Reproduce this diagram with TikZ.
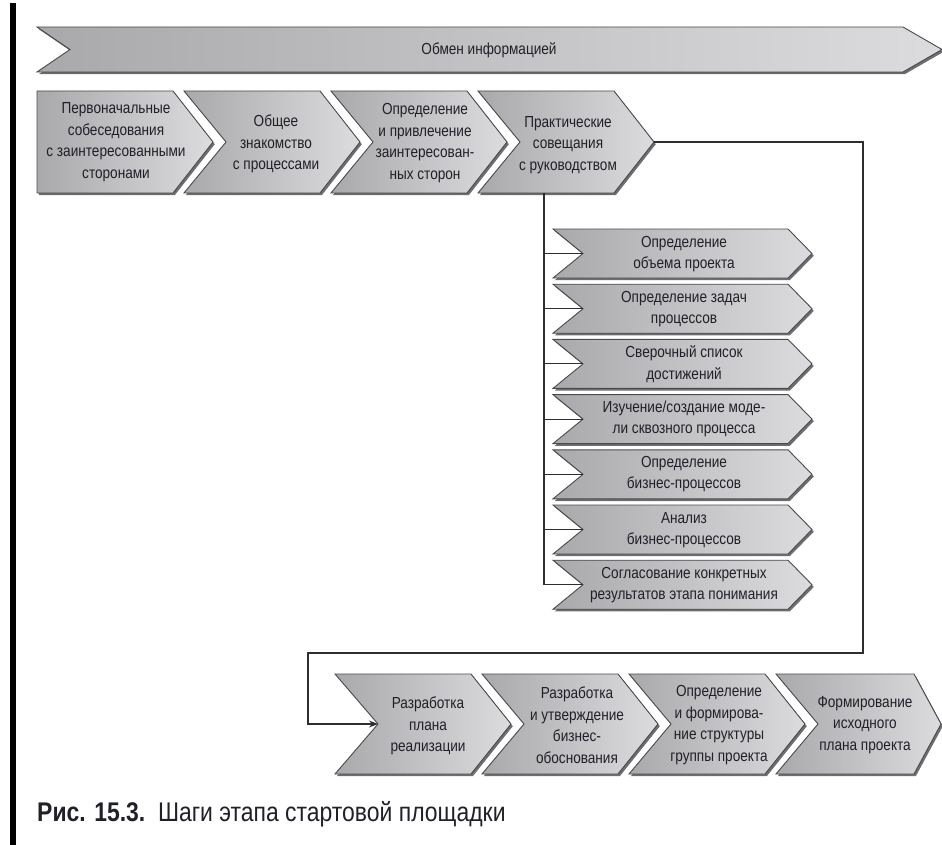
\documentclass[tikz,border=0pt]{standalone}
\usepackage{fontspec}
\setmainfont[FakeStretch=0.85]{Liberation Sans}
\usetikzlibrary{arrows.meta,calc}

\definecolor{edgec}{HTML}{4A4A4C}
\definecolor{shadowc}{HTML}{6E6E70}
\definecolor{darkfill}{HTML}{A9A9AB}
\definecolor{lightfill}{HTML}{DCDCDE}
\definecolor{txtc}{HTML}{202028}
\definecolor{linec}{HTML}{2E2E30}

% chevron: #1 name, #2 left x, #3 centre y, #4 body width, #5 half height,
% #6 notch depth, #7 tip depth
\newcommand\chevbox[7]{%
  \fill[shadowc,shift={(1.8,2.2)}]
    (#2,{#3-#5}) -- ({#2+#4},{#3-#5}) -- ({#2+#4+#7},#3) -- ({#2+#4},{#3+#5})
    -- (#2,{#3+#5}) -- ({#2+#6},#3) -- cycle;
  \path[chevfill]
    (#2,{#3-#5}) -- ({#2+#4},{#3-#5}) -- ({#2+#4+#7},#3) -- ({#2+#4},{#3+#5})
    -- (#2,{#3+#5}) -- ({#2+#6},#3) -- cycle;
  \coordinate (#1-in) at ({#2+#6},#3);
  \coordinate (#1-out) at ({#2+#4+#7},#3);
}

\tikzset{
  chevfill/.style={draw=edgec,line width=0.9pt,left color=darkfill,right color=lightfill},
  lbl/.style={align=center,inner sep=0pt,text=txtc,
    font=\fontsize{16}{21.5}\selectfont},
  conn/.style={draw=linec,line width=1.1pt},
}

\begin{document}
\begin{tikzpicture}[x=1pt,y=-1pt]
\useasboundingbox (0,0) rectangle (942,845);

% margin bar
\fill[black] (10,3) rectangle (16,845);

% information exchange banner
\chevbox{info}{37}{49.5}{866}{22.5}{33}{39}
\node[lbl] (infot) at (489,50) {Обмен информацией};

% first row
\chevbox{ra}{37}{142}{136}{51}{0}{40}
\chevbox{rb}{184}{142}{136}{51}{42}{40}
\chevbox{rc}{331}{142}{136}{51}{42}{40}
\chevbox{rd}{478}{142}{136}{51}{42}{40}
\node[lbl] (rat) at (116,142) {Первоначальные\\собеседования\\с заинтересованными\\сторонами};
\node[lbl] (rbt) at (276,144) {Общее\\знакомство\\с процессами};
\node[lbl] (rct) at (425,143) {Определение\\и привлечение\\заинтересован-\\ных сторон};
\node[lbl] (rdt) at (568,145) {Практические\\совещания\\с руководством};

% sub-steps of the management sessions
\chevbox{s1}{553}{253.5}{235}{24.5}{30}{24}
\chevbox{s2}{553}{308.7}{235}{24.5}{30}{24}
\chevbox{s3}{553}{363.9}{235}{24.5}{30}{24}
\chevbox{s4}{553}{419.1}{235}{24.5}{30}{24}
\chevbox{s5}{553}{474.3}{235}{24.5}{30}{24}
\chevbox{s6}{553}{529.5}{235}{24.5}{30}{24}
\chevbox{s7}{553}{584.7}{235}{24.5}{30}{24}
\node[lbl] (s1t) at (684,254) {Определение\\объема проекта};
\node[lbl] (s2t) at (684,309) {Определение задач\\процессов};
\node[lbl] (s3t) at (684,364) {Сверочный список\\достижений};
\node[lbl] (s4t) at (684,419) {Изучение/создание моде-\\ли сквозного процесса};
\node[lbl] (s5t) at (684,474) {Определение\\бизнес-процессов};
\node[lbl] (s6t) at (684,530) {Анализ\\бизнес-процессов};
\node[lbl] (s7t) at (684,585) {Согласование конкретных\\результатов этапа понимания};

% second row
\chevbox{ta}{335}{724}{136}{50}{43}{40}
\chevbox{tb}{482}{724}{136}{50}{42}{40}
\chevbox{tc}{629}{724}{136}{50}{42}{40}
\chevbox{td}{776}{724}{138}{50}{42}{27}
\node[lbl] (tat) at (428,726) {Разработка\\плана\\реализации};
\node[lbl] (tbt) at (577,725) {Разработка\\и утверждение\\бизнес-\\обоснования};
\node[lbl] (tct) at (719,725) {Определение\\и формирова-\\ние структуры\\группы проекта};
\node[lbl] (tdt) at (865,725) {Формирование\\исходного\\плана проекта};

% connectors
\coordinate (spine) at (544,193.5);
\foreach \s in {s1,s2,s3,s4,s5,s6,s7}
  \draw[conn] (spine) |- (\s-in);
\coordinate (turnR) at (863,653);
\coordinate (turnL) at (308,653);
\draw[conn,-{Stealth[length=9pt,width=7pt]}]
  (rd-out) -| (turnR) -- (turnL) |- (ta-in);

% caption
\node[anchor=base west,inner sep=0pt,text=txtc,font=\fontsize{27}{27}\selectfont]
  (cap) at (37,821) {\textbf{Рис. 15.3.}\ \ Шаги этапа стартовой площадки};
\end{tikzpicture}
\end{document}
